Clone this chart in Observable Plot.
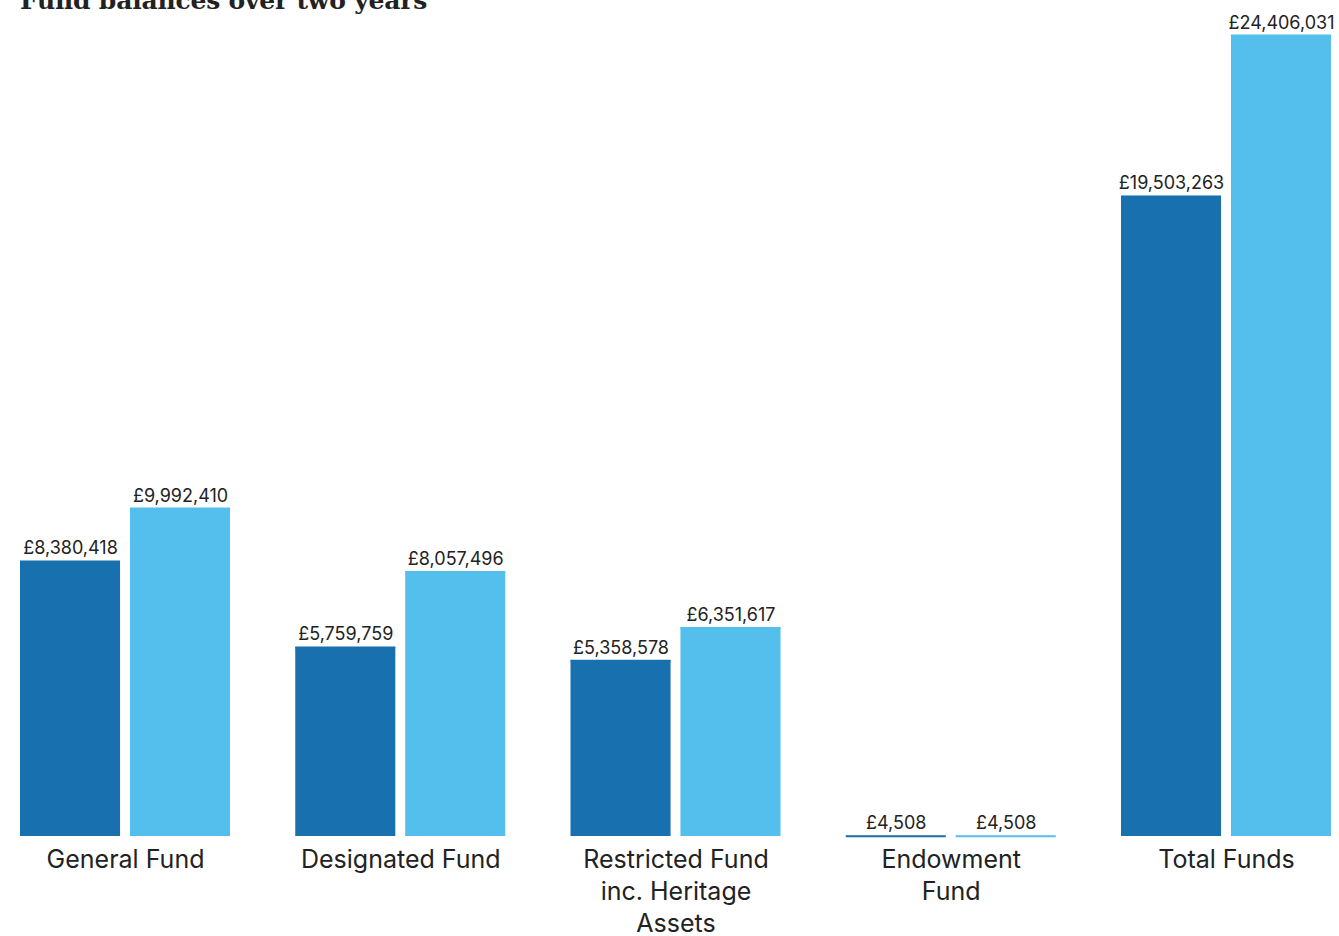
<!DOCTYPE html>
<html>
<head>
<meta charset="utf-8">
<script src="https://cdn.jsdelivr.net/npm/d3@7"></script>
<script src="https://cdn.jsdelivr.net/npm/@observablehq/plot@0.6"></script>
<style>
  html, body { margin: 0; padding: 0; background: #fff; overflow: hidden; }
  #wrap { position: relative; width: 1339px; height: 936px; }
  #title { position: absolute; left: 20px; top: -14px; font-family: "DejaVu Serif", serif; font-weight: bold; font-size: 25px; color: #222; white-space: nowrap; letter-spacing: -0.2px; }
  #chart { position: absolute; left: 0; top: 0; }
</style>
</head>
<body>
<div id="wrap">
  <div id="chart"></div>
  <div id="title">Fund balances over two years</div>
</div>
<script>
const funds = ["General Fund", "Designated Fund", "Restricted Fund inc. Heritage Assets", "Endowment Fund", "Total Funds"];
const fundLabels = ["General Fund", "Designated Fund", "Restricted Fund\ninc. Heritage\nAssets", "Endowment\nFund", "Total Funds"];
const years = ["Previous year", "Current year"];
const previousValues = [8380418, 5759759, 5358578, 4508, 19503263];
const currentValues = [9992410, 8057496, 6351617, 4508, 24406031];
const yearColors = ["#1871ae", "#54bfec"];

const data = [];
funds.forEach((f, i) => {
  data.push({fund: f, year: years[0], value: previousValues[i]});
  data.push({fund: f, year: years[1], value: currentValues[i]});
});
const labelOf = new Map(funds.map((f, i) => [f, fundLabels[i]]));
const fmt = v => "£" + d3.format(",")(v);

const chart = Plot.plot({
  width: 1339,
  height: 936,
  marginTop: 35,
  marginBottom: 100,
  marginLeft: 20,
  marginRight: 8,
  style: {fontFamily: "Inter, sans-serif", background: "#fff"},
  fx: {domain: funds, paddingInner: 0.237, paddingOuter: 0, round: false, label: null},
  x: {domain: years, paddingInner: 0.09, paddingOuter: 0, round: false, axis: null},
  y: {domain: [0, 24406031], axis: null},
  color: {domain: years, range: yearColors},
  marks: [
    Plot.barY(data, {fx: "fund", x: "year", y: "value", fill: "year"}),
    Plot.tickY(data, {fx: "fund", x: "year", y: "value", stroke: "year", strokeWidth: 2}),
    Plot.text(data, {fx: "fund", x: "year", y: "value", text: d => fmt(d.value), lineAnchor: "bottom", dy: -7, fontSize: 18, fill: "#222", style: "letter-spacing:0.2px"}),
    Plot.axisFx({anchor: "bottom", tickSize: 0, tickPadding: 9, fontSize: 25, lineHeight: 1.28, fill: "#222", tickFormat: f => labelOf.get(f), label: null, lineAnchor: "top", style: "letter-spacing:0.6px"})
  ]
});
document.getElementById("chart").appendChild(chart);
</script>
</body>
</html>
